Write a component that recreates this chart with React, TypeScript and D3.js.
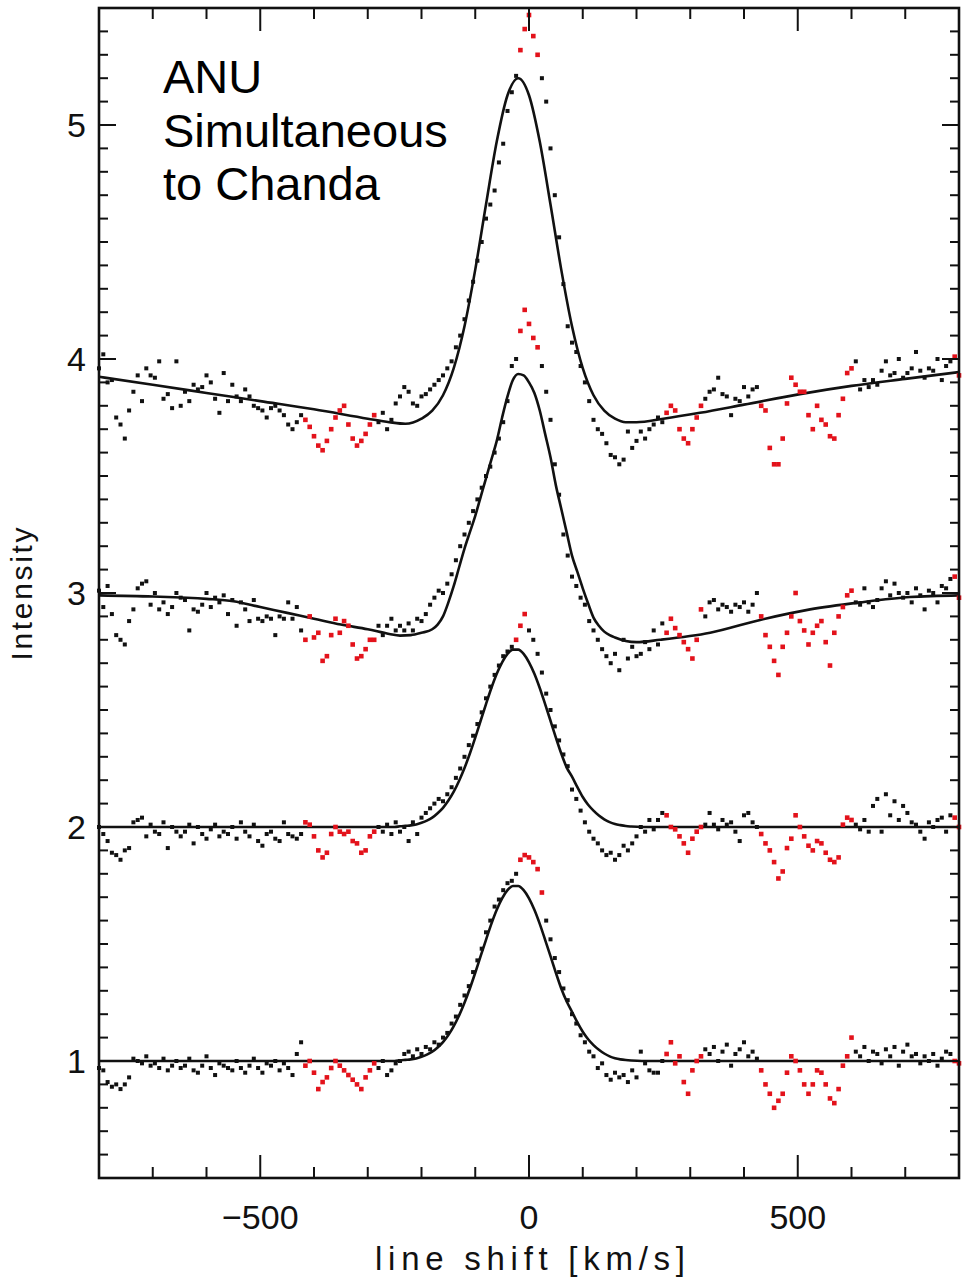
import React from 'react';
import * as d3 from 'd3';

// ---------- data ----------
// sampling grid of the spectra (km/s)
const X_GRID: number[] = d3.range(-800, 804, 8);

// observed intensities (4 spectra, offset by 1), one value per grid point
const S1: number[] = [
  0.97, 0.96, 0.91, 0.89, 0.90, 0.88, 0.90, 0.93, 1.01, 1.00,
  0.99, 1.02, 0.98, 0.99, 0.97, 1.01, 0.96, 0.98, 1.00, 0.97,
  0.98, 1.01, 0.96, 0.95, 0.98, 1.02, 0.97, 0.94, 0.99, 0.98,
  0.97, 0.96, 1.00, 0.97, 0.95, 0.98, 1.01, 0.97, 0.95, 0.99,
  0.98, 1.00, 0.96, 0.99, 0.97, 0.94, 1.03, 1.08, 0.98, 1.00,
  0.95, 0.88, 0.91, 0.93, 0.97, 1.00, 0.98, 0.96, 0.94, 0.92,
  0.90, 0.88, 0.93, 0.96, 0.99, 0.97, 1.00, 0.94, 0.96, 0.99,
  1.00, 1.03, 1.04, 1.02, 1.05, 1.03, 1.06, 1.05, 1.08, 1.07,
  1.10, 1.12, 1.16, 1.19, 1.24, 1.28, 1.32, 1.38, 1.43, 1.48,
  1.55, 1.60, 1.66, 1.69, 1.73, 1.76, 1.77, 1.80, 1.86, 1.88,
  1.87, 1.85, 1.82, 1.72, 1.60, 1.52, 1.44, 1.38, 1.31, 1.26,
  1.20, 1.16, 1.11, 1.08, 1.04, 1.02, 0.97, 0.99, 0.94, 0.92,
  0.95, 0.93, 0.94, 0.91, 0.96, 0.93, 1.04, 0.99, 0.96, 0.95,
  0.95, 1.00, 1.03, 1.08, 0.99, 1.02, 0.91, 0.86, 0.96, 1.00,
  1.02, 1.05, 1.03, 1.06, 1.00, 1.04, 1.07, 0.98, 1.03, 1.05,
  1.08, 1.02, 1.04, 1.01, 0.96, 0.90, 0.86, 0.80, 0.83, 0.86,
  0.95, 1.02, 1.00, 0.96, 0.90, 0.86, 0.90, 0.96, 0.95, 0.90,
  0.84, 0.82, 0.88, 0.98, 1.02, 1.10, 1.04, 1.02, 1.06, 1.00,
  1.04, 1.03, 0.99, 1.05, 1.02, 1.06, 0.98, 1.04, 1.07, 1.02,
  1.03, 0.99, 1.02, 1.00, 1.03, 0.98, 1.01, 1.04, 1.03, 1.00,
  0.99,
];

const S2: number[] = [
  2.00, 1.97, 1.94, 1.89, 1.88, 1.86, 1.90, 1.91, 2.02, 2.03,
  2.04, 1.96, 2.01, 1.98, 1.97, 2.02, 1.91, 2.00, 1.98, 1.96,
  1.98, 2.01, 1.93, 2.00, 1.97, 1.95, 1.99, 2.01, 1.96, 1.98,
  1.97, 2.00, 1.95, 2.02, 1.98, 1.96, 2.01, 1.94, 1.92, 1.97,
  1.98, 1.95, 1.94, 2.02, 1.97, 1.96, 1.95, 1.97, 2.02, 2.01,
  1.96, 1.90, 1.87, 1.89, 1.97, 2.00, 1.98, 1.97, 1.98, 1.94,
  1.93, 1.89, 1.90, 1.96, 1.98, 2.00, 1.98, 2.01, 1.97, 2.02,
  1.98, 2.00, 1.94, 2.02, 1.97, 2.04, 2.06, 2.08, 2.10, 2.12,
  2.11, 2.14, 2.17, 2.21, 2.25, 2.30, 2.35, 2.39, 2.44, 2.49,
  2.55, 2.60, 2.65, 2.69, 2.73, 2.75, 2.77, 2.80, 2.86, 2.91,
  2.84, 2.80, 2.74, 2.66, 2.57, 2.50, 2.43, 2.37, 2.31, 2.26,
  2.16, 2.12, 2.07, 2.02, 1.98, 1.95, 1.93, 1.90, 1.88, 1.89,
  1.86, 1.88, 1.92, 1.90, 1.93, 1.96, 2.00, 1.98, 2.03, 1.99,
  2.03, 2.06, 2.05, 2.00, 1.99, 1.96, 1.93, 1.89, 1.95, 1.98,
  2.00, 2.01, 2.06, 2.01, 1.99, 2.03, 2.01, 2.02, 1.98, 1.94,
  2.05, 2.06, 2.02, 2.00, 1.97, 1.93, 1.90, 1.85, 1.78, 1.81,
  1.91, 1.95, 2.05, 2.00, 1.96, 1.92, 1.90, 1.94, 1.93, 1.89,
  1.86, 1.85, 1.87, 2.01, 2.04, 2.03, 2.01, 1.99, 2.03, 1.98,
  2.09, 2.12, 1.98, 2.14, 2.05, 2.11, 2.03, 2.09, 2.06, 2.02,
  2.01, 1.98, 1.95, 2.02, 2.00, 2.03, 2.04, 1.98, 2.05, 2.04,
  2.00,
];

const S3: number[] = [
  3.01, 2.94, 3.03, 2.91, 2.82, 2.80, 2.78, 2.88, 2.93, 3.02,
  3.04, 3.05, 2.95, 3.00, 2.93, 2.96, 2.91, 2.94, 3.00, 2.98,
  2.97, 2.84, 2.93, 2.92, 2.95, 3.00, 2.94, 2.98, 2.96, 2.99,
  2.91, 2.97, 2.86, 2.96, 2.93, 2.88, 2.97, 2.89, 2.88, 2.90,
  2.89, 2.82, 2.90, 2.89, 2.96, 2.89, 2.94, 2.84, 2.80, 2.90,
  2.81, 2.83, 2.71, 2.73, 2.82, 2.89, 2.83, 2.88, 2.86, 2.78,
  2.72, 2.73, 2.76, 2.80, 2.80, 2.86, 2.82, 2.86, 2.89, 2.84,
  2.86, 2.84, 2.87, 2.84, 2.89, 2.88, 2.91, 2.95, 2.98, 3.01,
  3.00, 3.04, 3.08, 3.14, 3.20, 3.25, 3.30, 3.35, 3.40, 3.45,
  3.50, 3.54, 3.60, 3.66, 3.73, 3.82, 3.97, 4.00, 4.12, 4.21,
  4.15, 4.09, 4.05, 3.97, 3.86, 3.74, 3.55, 3.42, 3.25, 3.16,
  3.07, 3.03, 2.98, 2.95, 2.88, 2.84, 2.80, 2.76, 2.73, 2.70,
  2.74, 2.67, 2.80, 2.72, 2.77, 2.73, 2.74, 2.79, 2.76, 2.84,
  2.78, 2.87, 2.83, 2.89, 2.85, 2.82, 2.79, 2.76, 2.72, 2.80,
  2.93, 2.90, 2.96, 2.97, 2.93, 2.95, 2.94, 2.92, 2.95, 2.94,
  2.96, 2.92, 2.95, 3.00, 2.90, 2.82, 2.77, 2.71, 2.65, 2.77,
  2.83, 2.90, 3.00, 2.88, 2.84, 2.78, 2.83, 2.86, 2.88, 2.79,
  2.69, 2.83, 2.90, 2.94, 2.99, 3.01, 2.96, 2.95, 3.02, 2.96,
  2.94, 2.97, 3.02, 3.05, 2.99, 3.04, 3.00, 2.98, 3.00, 2.96,
  3.02, 2.99, 2.93, 3.01, 3.00, 2.96, 3.03, 3.02, 3.06, 3.07,
  2.98,
];

const S4: number[] = [
  3.96, 4.02, 3.90, 3.91, 3.75, 3.72, 3.66, 3.78, 3.86, 3.93,
  3.82, 3.96, 3.93, 3.92, 3.99, 3.83, 3.85, 3.79, 3.99, 3.80,
  3.86, 3.82, 3.89, 3.87, 3.88, 3.93, 3.90, 3.83, 3.77, 3.94,
  3.82, 3.89, 3.84, 3.82, 3.87, 3.84, 3.80, 3.79, 3.78, 3.75,
  3.79, 3.80, 3.78, 3.76, 3.72, 3.70, 3.73, 3.76, 3.74, 3.71,
  3.67, 3.63, 3.61, 3.65, 3.70, 3.75, 3.78, 3.80, 3.72, 3.66,
  3.63, 3.65, 3.68, 3.72, 3.76, 3.73, 3.77, 3.70, 3.74, 3.81,
  3.84, 3.88, 3.86, 3.81, 3.80, 3.84, 3.85, 3.87, 3.89, 3.91,
  3.93, 3.96, 3.99, 4.05, 4.10, 4.17, 4.25, 4.33, 4.42, 4.50,
  4.60, 4.66, 4.72, 4.84, 4.92, 5.06, 5.14, 5.21, 5.32, 5.41,
  5.47, 5.38, 5.30, 5.20, 5.10, 4.90, 4.70, 4.52, 4.32, 4.14,
  4.07, 4.03, 3.97, 3.90, 3.82, 3.74, 3.70, 3.68, 3.64, 3.59,
  3.58, 3.55, 3.57, 3.69, 3.62, 3.65, 3.69, 3.66, 3.70, 3.72,
  3.75, 3.73, 3.77, 3.80, 3.78, 3.70, 3.66, 3.64, 3.70, 3.75,
  3.80, 3.83, 3.86, 3.87, 3.92, 3.85, 3.84, 3.76, 3.83, 3.82,
  3.88, 3.84, 3.87, 3.88, 3.80, 3.78, 3.62, 3.55, 3.55, 3.66,
  3.81, 3.92, 3.89, 3.86, 3.86, 3.76, 3.70, 3.80, 3.74, 3.72,
  3.67, 3.66, 3.76, 3.83, 3.94, 3.96, 3.99, 3.87, 3.91, 3.88,
  3.91, 3.89, 3.95, 3.99, 3.93, 3.94, 4.00, 3.92, 3.94, 3.96,
  4.03, 3.95, 3.92, 3.96, 3.95, 4.00, 3.91, 3.97, 3.99, 4.01,
  3.93,
];

const SPECTRA: number[][] = [S1, S2, S3, S4];

// velocity ranges excluded from the fit (shown in red)
const RED_RANGES: [number, number][] = [[-420, -284], [255, 320], [430, 606], [788, 800]];
const PEAK_MASKS: [number, number][] = [[-22, 26], [-26, -4], [-22, 20], [-22, 20]];

// fitted profiles: [velocity, intensity]
const FIT1: [number, number][] = [
  [-800, 1.0], [-250, 1.0], [-240, 1.003], [-230, 1.005], [-220, 1.007], [-210, 1.011], [-200, 1.018],
  [-190, 1.027], [-180, 1.04], [-170, 1.058], [-160, 1.081], [-150, 1.111], [-140, 1.149], [-130, 1.195],
  [-120, 1.249], [-110, 1.31], [-100, 1.377], [-90, 1.448], [-80, 1.518], [-70, 1.586], [-60, 1.646],
  [-50, 1.695], [-40, 1.73], [-30, 1.748], [-20, 1.748], [-10, 1.73], [0, 1.695], [10, 1.646], [20, 1.586],
  [30, 1.518], [40, 1.448], [50, 1.377], [60, 1.31], [70, 1.255], [80, 1.21], [90, 1.165], [100, 1.125],
  [110, 1.093], [120, 1.068], [130, 1.048], [140, 1.032], [150, 1.02], [160, 1.012], [170, 1.007],
  [180, 1.004], [190, 1.002], [210, 1.0], [800, 1.0],
];
const FIT2: [number, number][] = [
  [-800, 2.0], [-250, 2.0], [-240, 2.003], [-230, 2.005], [-220, 2.007], [-210, 2.011], [-200, 2.018],
  [-190, 2.027], [-180, 2.04], [-170, 2.059], [-160, 2.082], [-150, 2.113], [-140, 2.151], [-130, 2.198],
  [-120, 2.252], [-110, 2.314], [-100, 2.382], [-90, 2.454], [-80, 2.525], [-70, 2.594], [-60, 2.655],
  [-50, 2.704], [-40, 2.74], [-30, 2.758], [-20, 2.758], [-10, 2.74], [0, 2.704], [10, 2.655], [20, 2.594],
  [30, 2.525], [40, 2.454], [50, 2.382], [60, 2.314], [70, 2.255], [80, 2.215], [90, 2.17], [100, 2.128],
  [110, 2.095], [120, 2.07], [130, 2.049], [140, 2.033], [150, 2.021], [160, 2.013], [170, 2.008],
  [180, 2.004], [190, 2.002], [210, 2.0], [800, 2.0],
];
const FIT3: [number, number][] = [
  [-800, 2.99], [-700, 2.985], [-600, 2.975], [-550, 2.965], [-500, 2.94], [-450, 2.915], [-400, 2.89],
  [-350, 2.865], [-300, 2.845], [-260, 2.825], [-240, 2.818], [-220, 2.82], [-200, 2.83], [-180, 2.845],
  [-170, 2.865], [-160, 2.9], [-150, 2.96], [-140, 3.03], [-130, 3.11], [-120, 3.19], [-110, 3.26],
  [-100, 3.33], [-90, 3.41], [-80, 3.49], [-70, 3.57], [-60, 3.65], [-50, 3.75], [-40, 3.84], [-30, 3.91],
  [-20, 3.936], [-10, 3.93], [0, 3.9], [10, 3.855], [20, 3.78], [30, 3.68], [40, 3.58], [50, 3.46],
  [60, 3.36], [70, 3.26], [80, 3.16], [90, 3.09], [100, 3.02], [110, 2.955], [120, 2.895], [130, 2.86],
  [140, 2.835], [150, 2.82], [160, 2.81], [180, 2.795], [200, 2.79], [244, 2.8], [337, 2.83], [430, 2.885],
  [523, 2.93], [616, 2.96], [709, 2.983], [800, 2.99],
];
const FIT4: [number, number][] = [
  [-800, 3.924], [-700, 3.89], [-600, 3.855], [-500, 3.82], [-400, 3.785], [-300, 3.745], [-260, 3.73],
  [-230, 3.723], [-200, 3.745], [-180, 3.779], [-160, 3.845], [-140, 3.961], [-120, 4.14], [-100, 4.382],
  [-80, 4.66], [-60, 4.929], [-40, 5.127], [-20, 5.2], [0, 5.127], [20, 4.929], [40, 4.66], [60, 4.382],
  [80, 4.14], [100, 3.961], [120, 3.845], [140, 3.779], [160, 3.745], [180, 3.73], [200, 3.73],
  [250, 3.745], [318, 3.77], [400, 3.805], [504, 3.85], [600, 3.885], [700, 3.915], [800, 3.944],
];
const FITS = [FIT1, FIT2, FIT3, FIT4];

// axes
const X_DOMAIN: [number, number] = [-800, 800];
const Y_DOMAIN: [number, number] = [0.5, 5.5];
const X_TICKS: number[] = [-800, -700, -600, -500, -400, -300, -200, -100, 0, 100, 200, 300, 400, 500, 600, 700, 800];
const X_LABELS: number[] = [-500, 0, 500];
const Y_LABELS: number[] = [1, 2, 3, 4, 5];
const X_TITLE = 'line shift [km/s]';
const Y_TITLE = 'Intensity';
const NOTE_LINES = ['ANU', 'Simultaneous', 'to Chanda'];

// ---------- layout ----------
const W = 962;
const H = 1280;
const PL = 99, PR = 959, PT = 8, PB = 1178;
const FONT = '"Liberation Sans", Arial, Helvetica, sans-serif';
const RED = '#e3121b';
const INK = '#111';

export default function App() {
  const xs = d3.scaleLinear().domain(X_DOMAIN).range([PL, PR]);
  const ys = d3.scaleLinear().domain(Y_DOMAIN).range([PB, PT]);
  const line = d3.line<[number, number]>()
    .x((d) => xs(d[0]))
    .y((d) => ys(d[1]))
    .curve(d3.curveMonotoneX);

  const yTicks = d3.range(0, 51).map((i) => Math.round((Y_DOMAIN[0] + i * 0.1) * 10) / 10);

  const isRed = (s: number, x: number) =>
    RED_RANGES.some(([a, b]) => x >= a && x <= b) || (x >= PEAK_MASKS[s][0] && x <= PEAK_MASKS[s][1]);

  const black: { x: number; y: number; k: string }[] = [];
  const red: { x: number; y: number; k: string }[] = [];
  SPECTRA.forEach((arr, s) => {
    arr.forEach((v, i) => {
      const xv = X_GRID[i];
      const p = { x: xs(xv), y: ys(v), k: `${s}-${i}` };
      if (isRed(s, xv)) red.push(p);
      else black.push(p);
    });
  });

  const xMajLen = 23, xMinLen = 11, yMajLen = 17, yMinLen = 9;

  return (
    <div style={{ position: 'absolute', left: 0, top: 0 }}>
      <svg width={W} height={H} style={{ display: 'block', background: '#fff' }}>
        {/* data points */}
        <g>
          {black.map((p) => (
            <rect key={p.k} x={p.x - 2} y={p.y - 2} width={4} height={4} fill={INK} />
          ))}
        </g>
        {/* fits */}
        <g fill="none" stroke={INK} strokeWidth={2.6}>
          {FITS.map((f, i) => (
            <path key={i} d={line(f) || ''} />
          ))}
        </g>
        <g>
          {red.map((p) => (
            <rect key={p.k} x={p.x - 2.3} y={p.y - 2.3} width={4.6} height={4.6} fill={RED} />
          ))}
        </g>

        {/* frame */}
        <rect x={PL} y={PT} width={PR - PL} height={PB - PT} fill="none" stroke={INK} strokeWidth={2.6} />

        {/* ticks on all four sides */}
        <g stroke={INK} strokeWidth={2}>
          {X_TICKS.map((t) => {
            const len = t % 500 === 0 ? xMajLen : xMinLen;
            const x = xs(t);
            return (
              <g key={t}>
                <line x1={x} x2={x} y1={PB} y2={PB - len} />
                <line x1={x} x2={x} y1={PT} y2={PT + len} />
              </g>
            );
          })}
          {yTicks.map((t) => {
            const len = Math.abs(t - Math.round(t)) < 1e-6 ? yMajLen : yMinLen;
            const y = ys(t);
            return (
              <g key={t}>
                <line x1={PL} x2={PL + len} y1={y} y2={y} />
                <line x1={PR} x2={PR - len} y1={y} y2={y} />
              </g>
            );
          })}
        </g>

        {/* tick labels and titles */}
        <g fontFamily={FONT} fill={INK}>
          {X_LABELS.map((t) => (
            <text key={t} x={xs(t)} y={1229} fontSize={34} textAnchor="middle">
              {t < 0 ? `\u2212${Math.abs(t)}` : `${t}`}
            </text>
          ))}
          {Y_LABELS.map((t) => (
            <text key={t} x={86} y={ys(t) + 12} fontSize={34} textAnchor="end">
              {t}
            </text>
          ))}
          <text x={530} y={1270} fontSize={33} textAnchor="middle" textLength={310} lengthAdjust="spacing">
            {X_TITLE}
          </text>
          <text
            transform={`translate(32, 594) rotate(-90)`}
            fontSize={30}
            textAnchor="middle"
            textLength={133}
            lengthAdjust="spacing"
          >
            {Y_TITLE}
          </text>
        </g>

        {/* annotation */}
        <g fontFamily={FONT} fill="#000" fontSize={47}>
          {NOTE_LINES.map((s, i) => (
            <text key={s} x={163} y={93 + i * 53.5}>
              {s}
            </text>
          ))}
        </g>
      </svg>
    </div>
  );
}
